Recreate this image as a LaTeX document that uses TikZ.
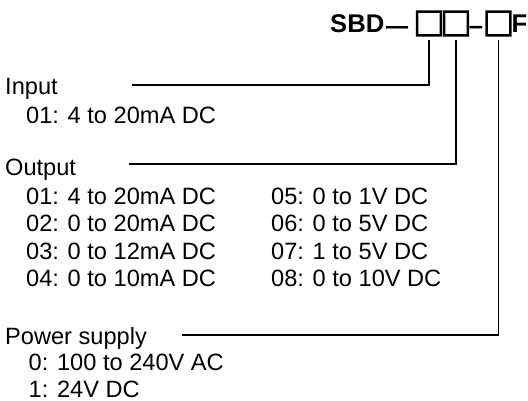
\documentclass[tikz,border=0pt]{standalone}
\usepackage{fontspec}
\setmainfont{Liberation Sans}
\newfontfamily\jpfont{Noto Sans CJK JP}
\newfontfamily\sqfont{Noto Sans CJK JP}[FakeBold=4]
\usetikzlibrary{positioning}

\begin{document}
\begin{tikzpicture}[
    x=1pt, y=-1pt,
    lbl/.style={anchor=base west, inner sep=0pt, font=\fontsize{23.6}{27}\selectfont},
    ttl/.style={anchor=base west, inner sep=0pt, font=\fontsize{25.6}{30}\selectfont\bfseries},
    sq/.style={anchor=center, inner sep=0pt, font=\sqfont\fontsize{31}{32}\selectfont},
    bar/.style={anchor=base, inner sep=0pt, font=\jpfont\fontsize{28}{30}\selectfont},
    lead/.style={line width=1.6pt},
]
\useasboundingbox (0,0) rectangle (528,401);

% model code
\node[ttl] (sbd)  at (330,33)   {SBD};
\node[bar] (dash) at (397.5,39) {\makebox[20pt]{ー}};
\node[sq]  (b1)   at (429,23.5) {\makebox[23pt]{□}};
\node[sq]  (b2)   at (456,23.5) {\makebox[23pt]{□}};
\node[ttl, anchor=base] (hy) at (476,34.5) {\makebox[12pt]{–}};
\node[sq]  (b3)   at (498.5,23.5) {\makebox[23pt]{□}};
\node[ttl] (f)    at (511.5,33) {F};

% option lists
\node[lbl] (inp)  at (5,95)   {Input};
\node[lbl] (in1)  at (26,124) {01: 4 to 20mA DC};

\node[lbl] (outp) at (5,176)  {Output};
\node[lbl] (o1)   at (26,205) {01: 4 to 20mA DC};
\node[lbl] (o2)   at (26,232) {02: 0 to 20mA DC};
\node[lbl] (o3)   at (26,259) {03: 0 to 12mA DC};
\node[lbl] (o4)   at (26,286) {04: 0 to 10mA DC};
\node[lbl] (o5)   at (271,205) {05: 0 to 1V DC};
\node[lbl] (o6)   at (271,232) {06: 0 to 5V DC};
\node[lbl] (o7)   at (271,259) {07: 1 to 5V DC};
\node[lbl] (o8)   at (271,286) {08: 0 to 10V DC};

\node[lbl] (pwr)  at (5,344)   {Power supply};
\node[lbl] (p0)   at (28.5,370) {0: 100 to 240V AC};
\node[lbl] (p1)   at (28.5,397) {1: 24V DC};

% leaders
\coordinate (ltop)    at (0,40);
\coordinate (inlead)  at (132,85);
\coordinate (outlead) at (129,164);
\coordinate (pwrlead) at (182,335);
\draw[lead] (inlead)  -| (b1 |- ltop);
\draw[lead] (outlead) -| (b2 |- ltop);
\draw[lead] (pwrlead) -| (b3 |- ltop);
\end{tikzpicture}
\end{document}
